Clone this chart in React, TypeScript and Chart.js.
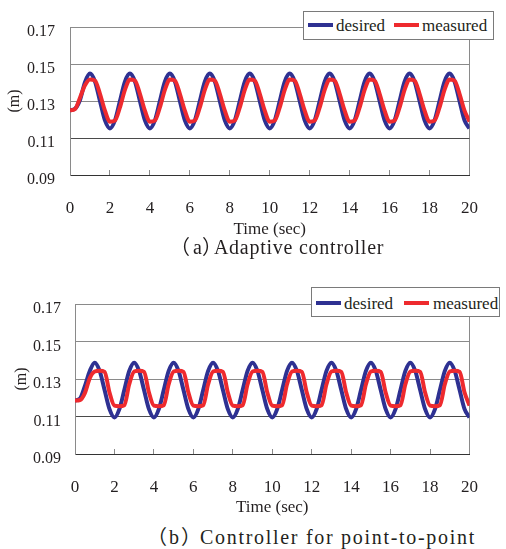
import React, { useEffect, useRef } from "react";
import { Chart, registerables } from "chart.js";

Chart.register(...registerables);

// ---- data ----
const time = [
  0, 0.25, 0.5, 0.75,
  1, 1.25, 1.5, 1.75, 2, 2.25, 2.5, 2.75,
  3, 3.25, 3.5, 3.75, 4, 4.25, 4.5, 4.75,
  5, 5.25, 5.5, 5.75, 6, 6.25, 6.5, 6.75,
  7, 7.25, 7.5, 7.75, 8, 8.25, 8.5, 8.75,
  9, 9.25, 9.5, 9.75, 10, 10.25, 10.5, 10.75,
  11, 11.25, 11.5, 11.75, 12, 12.25, 12.5, 12.75,
  13, 13.25, 13.5, 13.75, 14, 14.25, 14.5, 14.75,
  15, 15.25, 15.5, 15.75, 16, 16.25, 16.5, 16.75,
  17, 17.25, 17.5, 17.75, 18, 18.25, 18.5, 18.75,
  19, 19.25, 19.5, 19.75, 20,
];

const desiredA = [
  0.1250, 0.1258, 0.1305, 0.1402,
  0.1448, 0.1405, 0.1300, 0.1195, 0.1152, 0.1195, 0.1300, 0.1405,
  0.1448, 0.1405, 0.1300, 0.1195, 0.1152, 0.1195, 0.1300, 0.1405,
  0.1448, 0.1405, 0.1300, 0.1195, 0.1152, 0.1195, 0.1300, 0.1405,
  0.1448, 0.1405, 0.1300, 0.1195, 0.1152, 0.1195, 0.1300, 0.1405,
  0.1448, 0.1405, 0.1300, 0.1195, 0.1152, 0.1195, 0.1300, 0.1405,
  0.1448, 0.1405, 0.1300, 0.1195, 0.1152, 0.1195, 0.1300, 0.1405,
  0.1448, 0.1405, 0.1300, 0.1195, 0.1152, 0.1195, 0.1300, 0.1405,
  0.1448, 0.1405, 0.1300, 0.1195, 0.1152, 0.1195, 0.1300, 0.1405,
  0.1448, 0.1405, 0.1300, 0.1195, 0.1152, 0.1195, 0.1300, 0.1405,
  0.1448, 0.1405, 0.1300, 0.1195, 0.1152,
];

const measuredA = [
  0.1250, 0.1256, 0.1318, 0.1385,
  0.1416, 0.1410, 0.1339, 0.1248, 0.1188, 0.1194, 0.1265, 0.1360,
  0.1416, 0.1410, 0.1339, 0.1248, 0.1188, 0.1194, 0.1265, 0.1360,
  0.1416, 0.1410, 0.1339, 0.1248, 0.1188, 0.1194, 0.1265, 0.1360,
  0.1416, 0.1410, 0.1339, 0.1248, 0.1188, 0.1194, 0.1265, 0.1360,
  0.1416, 0.1410, 0.1339, 0.1248, 0.1188, 0.1194, 0.1265, 0.1360,
  0.1416, 0.1410, 0.1339, 0.1248, 0.1188, 0.1194, 0.1265, 0.1360,
  0.1416, 0.1410, 0.1339, 0.1248, 0.1188, 0.1194, 0.1265, 0.1360,
  0.1416, 0.1410, 0.1339, 0.1248, 0.1188, 0.1194, 0.1265, 0.1360,
  0.1416, 0.1410, 0.1339, 0.1248, 0.1188, 0.1194, 0.1265, 0.1360,
  0.1416, 0.1410, 0.1339, 0.1248, 0.1188,
];

const desiredB = [
  0.1185, 0.1195, 0.1262, 0.1343,
  0.1387, 0.1343, 0.1241, 0.1139, 0.1095, 0.1139, 0.1241, 0.1343,
  0.1387, 0.1343, 0.1241, 0.1139, 0.1095, 0.1139, 0.1241, 0.1343,
  0.1387, 0.1343, 0.1241, 0.1139, 0.1095, 0.1139, 0.1241, 0.1343,
  0.1387, 0.1343, 0.1241, 0.1139, 0.1095, 0.1139, 0.1241, 0.1343,
  0.1387, 0.1343, 0.1241, 0.1139, 0.1095, 0.1139, 0.1241, 0.1343,
  0.1387, 0.1343, 0.1241, 0.1139, 0.1095, 0.1139, 0.1241, 0.1343,
  0.1387, 0.1343, 0.1241, 0.1139, 0.1095, 0.1139, 0.1241, 0.1343,
  0.1387, 0.1343, 0.1241, 0.1139, 0.1095, 0.1139, 0.1241, 0.1343,
  0.1387, 0.1343, 0.1241, 0.1139, 0.1095, 0.1139, 0.1241, 0.1343,
  0.1387, 0.1343, 0.1241, 0.1139, 0.1095,
];

const measuredB = [
  0.1185, 0.1188, 0.1225, 0.1305,
  0.1340, 0.1344, 0.1338, 0.1228, 0.1158, 0.1155, 0.1160, 0.1272,
  0.1340, 0.1344, 0.1338, 0.1228, 0.1158, 0.1155, 0.1160, 0.1272,
  0.1340, 0.1344, 0.1338, 0.1228, 0.1158, 0.1155, 0.1160, 0.1272,
  0.1340, 0.1344, 0.1338, 0.1228, 0.1158, 0.1155, 0.1160, 0.1272,
  0.1340, 0.1344, 0.1338, 0.1228, 0.1158, 0.1155, 0.1160, 0.1272,
  0.1340, 0.1344, 0.1338, 0.1228, 0.1158, 0.1155, 0.1160, 0.1272,
  0.1340, 0.1344, 0.1338, 0.1228, 0.1158, 0.1155, 0.1160, 0.1272,
  0.1340, 0.1344, 0.1338, 0.1228, 0.1158, 0.1155, 0.1160, 0.1272,
  0.1340, 0.1344, 0.1338, 0.1228, 0.1158, 0.1155, 0.1160, 0.1272,
  0.1340, 0.1344, 0.1338, 0.1228, 0.1158,
];

const xTickValues = [0, 2, 4, 6, 8, 10, 12, 14, 16, 18, 20];
const yTickValues = [0.09, 0.11, 0.13, 0.15, 0.17];
const legendLabels = ["desired", "measured"];
const xTitle = "Time (sec)";
const yTitle = "(m)";
const captionA = ["（", "a", "）", "Adaptive controller"];
const captionB = ["（", "b", "）", "Controller for point-to-point"];

// ---- styles ----
const BLUE = "#2e3192";
const RED = "#ee2a2e";
const GRID = "#8a8a8a";
const GRID_DARK = "#4a4a4a";
const AXIS = "#333333";
const TEXT = "#231f20";
const SERIF = "'Liberation Serif', 'Times New Roman', serif";
const CAPTION_FONT = "'Liberation Serif', 'Noto Sans CJK SC', serif";

type Geo = {
  top: number;
  height: number;
  pad: { top: number; right: number; bottom: number; left: number };
  yWidth: number;
  xHeight: number;
  yTickPad: number;
  yTitlePad: number;
  legend: { left: number; top: number; width: number; height: number; lineY: number; l1: number; t1: number; l2: number; t2: number };
  caption: { left: number; cy: number; spacing: number[] };
};

const geoA: Geo = {
  top: 0,
  height: 240,
  pad: { top: 27, right: 22, bottom: 0, left: 0 },
  yWidth: 70,
  xHeight: 65,
  yTickPad: 15,
  yTitlePad: 5,
  legend: { left: 303, top: 11, width: 191, height: 29, lineY: 13, l1: 4, t1: 32, l2: 90, t2: 118 },
  caption: { left: 170, cy: 247, spacing: [3, 0, -8, 0.75] },
};

const geoB: Geo = {
  top: 270,
  height: 248,
  pad: { top: 34, right: 11, bottom: 0, left: 0 },
  yWidth: 75,
  xHeight: 64,
  yTickPad: 14,
  yTitlePad: 12,
  legend: { left: 311, top: 287, width: 189, height: 30, lineY: 15, l1: 4, t1: 32, l2: 92, t2: 121 },
  caption: { left: 147, cy: 537, spacing: [2, 2, -1, 1.7] },
};

function Panel({ desired, measured, caption, g }: { desired: number[]; measured: number[]; caption: string[]; g: Geo }) {
  const ref = useRef<HTMLCanvasElement>(null);

  useEffect(() => {
    const canvas = ref.current;
    if (!canvas) return;
    const chart = new Chart(canvas, {
      type: "line",
      data: {
        datasets: [
          {
            label: legendLabels[1],
            data: time.map((t, i) => ({ x: t, y: measured[i] })),
            borderColor: RED,
            backgroundColor: RED,
            borderWidth: 4,
            pointRadius: 0,
            cubicInterpolationMode: "monotone",
            fill: false,
          },
          {
            label: legendLabels[0],
            data: time.map((t, i) => ({ x: t, y: desired[i] })),
            borderColor: BLUE,
            backgroundColor: BLUE,
            borderWidth: 4,
            pointRadius: 0,
            cubicInterpolationMode: "monotone",
            fill: false,
          },
        ],
      },
      options: {
        responsive: false,
        animation: false,
        events: [],
        layout: { padding: g.pad },
        plugins: { legend: { display: false }, tooltip: { enabled: false }, title: { display: false } },
        scales: {
          x: {
            type: "linear",
            min: 0,
            max: 20,
            afterBuildTicks: (s: any) => {
              s.ticks = xTickValues.map((v) => ({ value: v }));
            },
            afterFit: (s: any) => {
              s.height = g.xHeight;
            },
            grid: {
              drawOnChartArea: true,
              drawTicks: true,
              tickLength: -5,
              tickColor: GRID,
              tickWidth: 1,
              lineWidth: 1,
              color: (c: any) => (c.tick && c.tick.value === 20 ? GRID : "transparent"),
            },
            border: { display: true, color: AXIS, width: 1 },
            ticks: {
              autoSkip: false,
              maxRotation: 0,
              padding: 28,
              color: TEXT,
              font: { family: SERIF, size: 17 },
              callback: (v: any) => String(v),
            },
            title: {
              display: true,
              text: xTitle,
              color: TEXT,
              font: { family: SERIF, size: 17 },
              padding: { top: 0, bottom: 0 },
            },
          },
          y: {
            type: "linear",
            min: 0.09,
            max: 0.17,
            afterBuildTicks: (s: any) => {
              s.ticks = yTickValues.map((v) => ({ value: v }));
            },
            afterFit: (s: any) => {
              s.width = g.yWidth;
            },
            grid: {
              drawTicks: false,
              lineWidth: 1,
              color: (c: any) => (c.tick && Math.abs(c.tick.value - 0.11) < 1e-6 ? GRID_DARK : GRID),
            },
            border: { display: true, color: GRID, width: 1 },
            ticks: {
              padding: g.yTickPad,
              labelOffset: 5,
              color: TEXT,
              font: { family: SERIF, size: 16 },
              callback: (v: any) => Number(v).toFixed(2),
            },
            title: {
              display: true,
              text: yTitle,
              color: TEXT,
              font: { family: SERIF, size: 16 },
              padding: { top: g.yTitlePad, bottom: 0 },
            },
          },
        },
      } as any,
    });
    return () => chart.destroy();
  }, []);

  const lg = g.legend;
  const sp = g.caption.spacing;
  const lineStyle = (left: number, color: string): React.CSSProperties => ({
    position: "absolute",
    left,
    top: lg.lineY - 2,
    width: 25,
    height: 4,
    background: color,
  });
  const textStyle = (left: number): React.CSSProperties => ({
    position: "absolute",
    left,
    top: lg.lineY - 9,
    height: 20,
    lineHeight: "20px",
    fontFamily: SERIF,
    fontSize: 17,
    color: TEXT,
    whiteSpace: "nowrap",
  });

  return (
    <>
      <canvas
        ref={ref}
        width={506}
        height={g.height}
        style={{ position: "absolute", left: 0, top: g.top, width: 506, height: g.height }}
      />
      <div
        style={{
          position: "absolute",
          left: lg.left,
          top: lg.top,
          width: lg.width,
          height: lg.height,
          boxSizing: "border-box",
          border: "1px solid #7a7a7a",
          background: "#ffffff",
        }}
      >
        <div style={lineStyle(lg.l1, BLUE)} />
        <div style={textStyle(lg.t1)}>{legendLabels[0]}</div>
        <div style={lineStyle(lg.l2, RED)} />
        <div style={textStyle(lg.t2)}>{legendLabels[1]}</div>
      </div>
      <div
        style={{
          position: "absolute",
          left: g.caption.left,
          top: g.caption.cy - 12,
          height: 24,
          lineHeight: "24px",
          fontFamily: CAPTION_FONT,
          fontSize: 20,
          color: TEXT,
          whiteSpace: "nowrap",
        }}
      >
        {caption.map((part, i) => (
          <span key={i} style={{ letterSpacing: `${sp[i]}px` }}>
            {part}
          </span>
        ))}
      </div>
    </>
  );
}

export default function App() {
  return (
    <div style={{ position: "absolute", left: 0, top: 0, width: 506, height: 549, background: "#ffffff", overflow: "hidden" }}>
      <Panel desired={desiredA} measured={measuredA} caption={captionA} g={geoA} />
      <Panel desired={desiredB} measured={measuredB} caption={captionB} g={geoB} />
    </div>
  );
}
